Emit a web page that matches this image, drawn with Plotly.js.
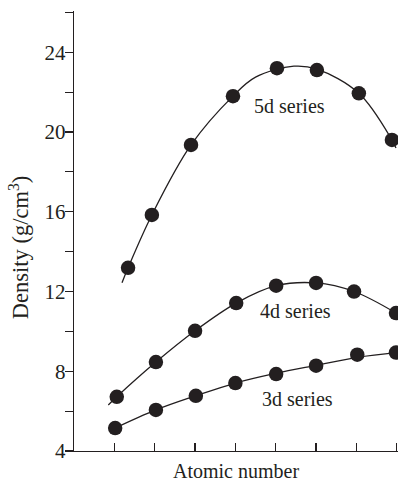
<!DOCTYPE html>
<html>
<head>
<meta charset="utf-8">
<script src="https://cdn.plot.ly/plotly-3.0.1.min.js"></script>
<style>html,body{margin:0;padding:0;background:#fff;}#chart{width:398px;height:482px;}</style>
</head>
<body>
<div id="chart"></div>
<script>
// Measured points (x in tick units, y density g/cm3)
var x3d = [1.02, 2.03, 3.02, 4.0, 5.01, 6.0, 7.02, 7.98];
var y3d = [5.15, 6.06, 6.77, 7.41, 7.86, 8.28, 8.83, 8.94];
var x4d = [1.06, 2.03, 3.0, 4.02, 5.01, 6.0, 6.94, 7.98];
var y4d = [6.72, 8.46, 10.03, 11.42, 12.29, 12.43, 12.0, 10.92];
var x5d = [1.34, 1.93, 2.90, 3.94, 5.03, 6.02, 7.06, 7.88];
var y5d = [13.19, 15.84, 19.35, 21.80, 23.20, 23.11, 21.94, 19.60];

// Smooth fitted curves
var fit3x = [1.02, 2.03, 3.02, 4.0, 5.01, 6.0, 7.02, 8.03];
var fit3y = [5.15, 6.06, 6.77, 7.41, 7.90, 8.30, 8.70, 8.95];
var fit4x = [0.85, 1.06, 2.03, 3.0, 4.02, 5.01, 6.0, 6.94, 7.98];
var fit4y = [6.31, 6.72, 8.46, 10.03, 11.42, 12.29, 12.43, 12.0, 10.92];
var fit5x = [1.19, 1.34, 1.93, 2.90, 3.94, 4.5, 5.45, 6.02, 7.06, 7.88, 7.98];
var fit5y = [12.44, 13.19, 15.84, 19.35, 21.80, 22.75, 23.30, 23.15, 21.94, 19.60, 19.2];

var xTicks = [1, 2, 3, 4, 5, 6, 7, 8];
var yTickVals = [4, 8, 12, 16, 20, 24];
var yTickText = ['4', '8', '12', '16', '20', '24'];

var seriesLabels = ['3d series', '4d series', '5d series'];
var labelX = [5.53, 5.5, 5.35];
var labelY = [6.62, 11.03, 21.31];

var ink = '#231f20';
var serif = 'Liberation Serif, Times New Roman, serif';

function curve(x, y) {
  return {x: x, y: y, mode: 'lines', type: 'scatter', hoverinfo: 'skip',
          line: {color: ink, width: 1.3, shape: 'spline', smoothing: 1}, cliponaxis: false};
}
function pts(x, y) {
  return {x: x, y: y, mode: 'markers', type: 'scatter',
          marker: {color: ink, size: 14.5}, cliponaxis: false};
}

var data = [
  curve(fit3x, fit3y), curve(fit4x, fit4y), curve(fit5x, fit5y),
  pts(x3d, y3d), pts(x4d, y4d), pts(x5d, y5d)
];

var annotations = seriesLabels.map(function (t, i) {
  return {text: t, x: labelX[i], y: labelY[i], xref: 'x', yref: 'y',
          showarrow: false, font: {family: serif, size: 20, color: ink},
          xanchor: 'center', yanchor: 'middle'};
});
annotations.push({text: 'Density (g/cm<sup>3</sup>)', textangle: -90,
  x: -0.17, y: 0.463, xref: 'paper', yref: 'paper', showarrow: false,
  xanchor: 'center', yanchor: 'middle', font: {family: serif, size: 22.5, color: ink}});

var layout = {
  width: 398, height: 482,
  margin: {l: 74, r: 0, t: 11, b: 31, pad: 0},
  paper_bgcolor: '#fff', plot_bgcolor: '#fff',
  showlegend: false,
  font: {family: serif, color: ink},
  xaxis: {
    range: [0, 8.03], showgrid: false, zeroline: false,
    showline: true, linecolor: ink, linewidth: 1.3,
    ticks: 'inside', ticklen: 8, tickwidth: 1.2, tickcolor: ink,
    tickvals: xTicks, showticklabels: false,
    title: {text: 'Atomic number', font: {family: serif, size: 20, color: ink}, standoff: 16}
  },
  yaxis: {
    range: [4, 26.07], showgrid: false, zeroline: false,
    showline: true, linecolor: ink, linewidth: 1.3,
    ticks: 'outside', ticklen: 8, tickwidth: 1.2, tickcolor: ink,
    tickmode: 'array', tickvals: yTickVals, ticktext: yTickText,
    ticklabelstandoff: -5,
    minor: {tick0: 2, dtick: 4, ticks: 'outside', ticklen: 8, tickwidth: 1.2, tickcolor: ink, showgrid: false},
    tickfont: {family: serif, size: 21, color: ink}
  },
  annotations: annotations
};

Plotly.newPlot('chart', data, layout, {displayModeBar: false, staticPlot: true});
</script>
</body>
</html>
